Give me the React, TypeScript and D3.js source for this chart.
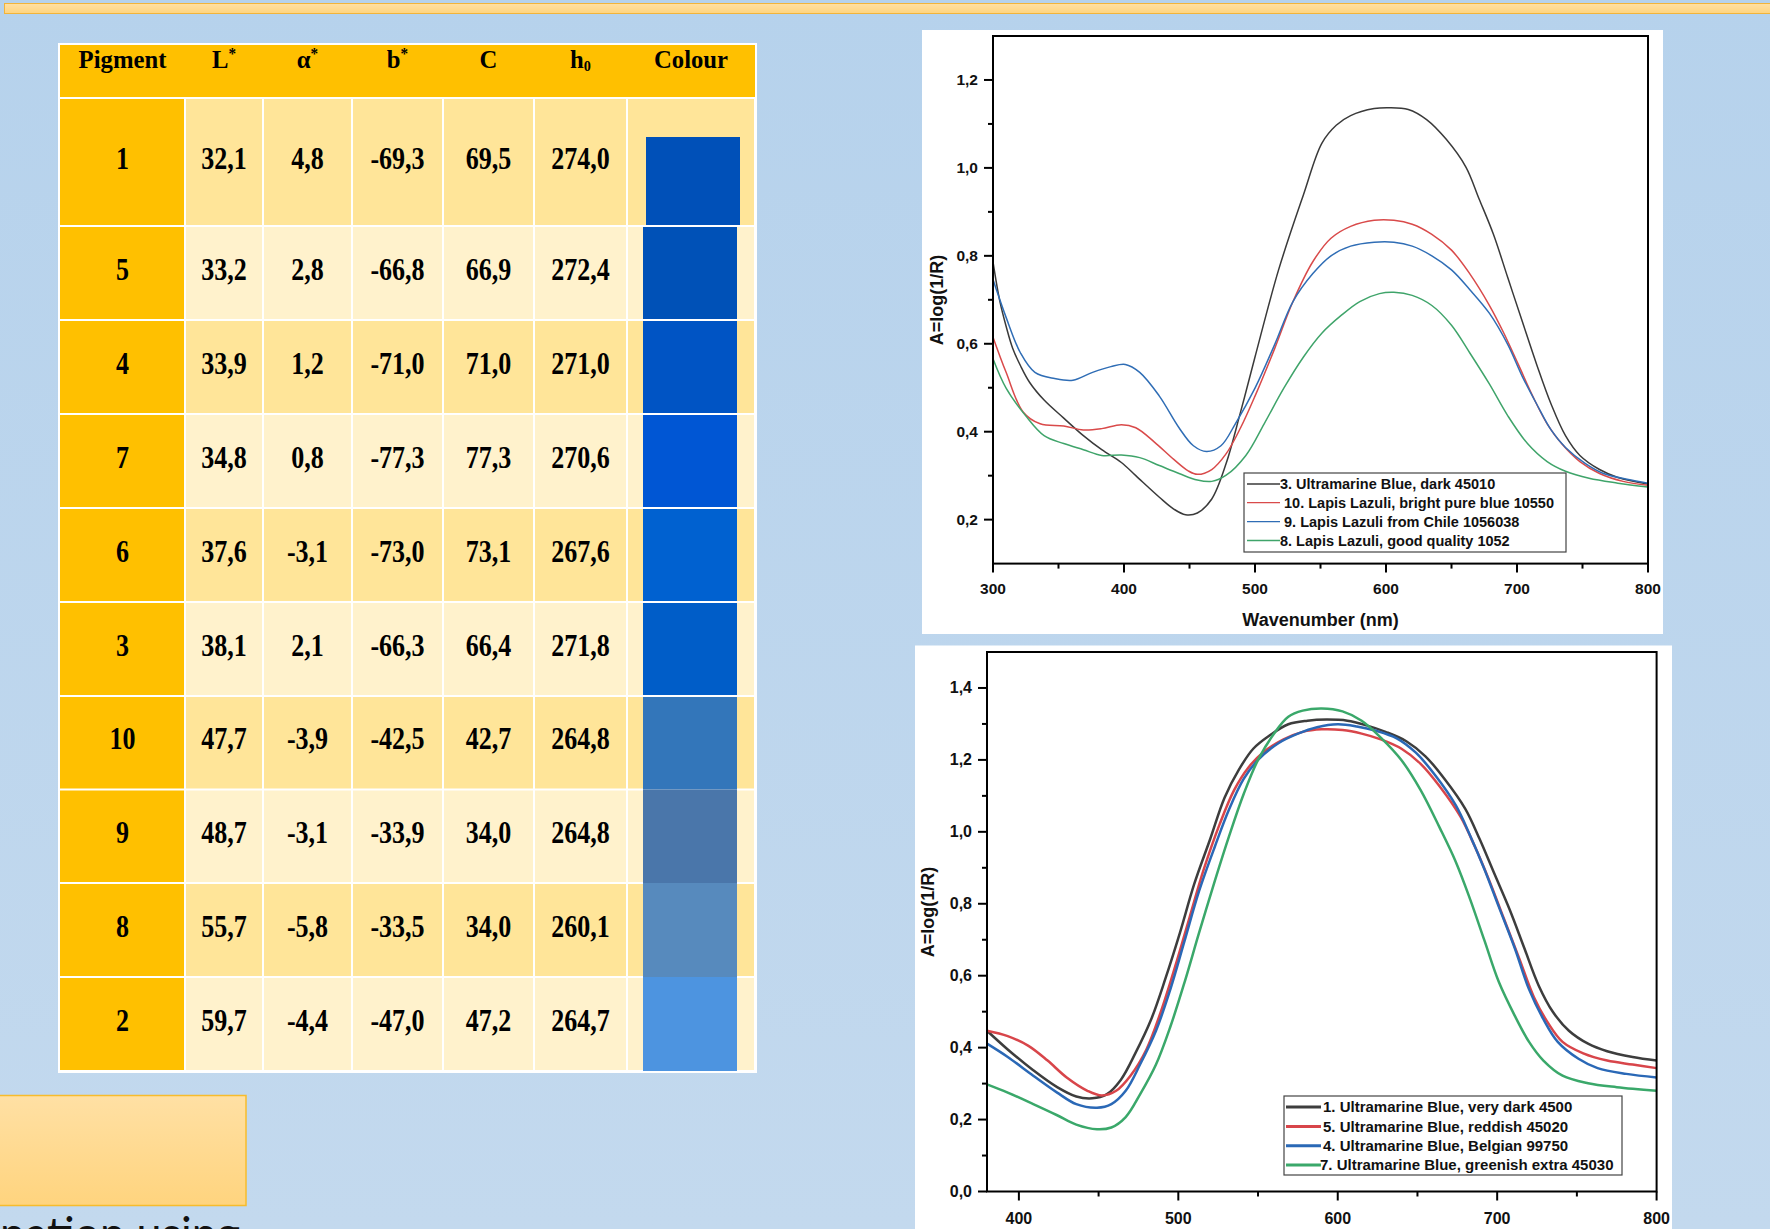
import React from 'react';
import * as d3 from 'd3';

// ---------------- Table data ----------------
const pigments = ['1', '5', '4', '7', '6', '3', '10', '9', '8', '2'];
const lStar = [32.1, 33.2, 33.9, 34.8, 37.6, 38.1, 47.7, 48.7, 55.7, 59.7];
const aStar = [4.8, 2.8, 1.2, 0.8, -3.1, 2.1, -3.9, -3.1, -5.8, -4.4];
const bStar = [-69.3, -66.8, -71.0, -77.3, -73.0, -66.3, -42.5, -33.9, -33.5, -47.0];
const chroma = [69.5, 66.9, 71.0, 77.3, 73.1, 66.4, 42.7, 34.0, 34.0, 47.2];
const hue = [274.0, 272.4, 271.0, 270.6, 267.6, 271.8, 264.8, 264.8, 260.1, 264.7];
const swatchColours = ['#0050B8', '#0051B7', '#0054C4', '#0056D4', '#0061D0', '#005DC8', '#3376BA', '#4A76AA', '#578ABD', '#4D94E0'];

// ---------------- Top chart data (wavelength nm, absorbance) ----------------
const topSeriesNames = [
  '3. Ultramarine Blue, dark 45010',
  ' 10. Lapis Lazuli, bright pure blue 10550',
  ' 9. Lapis Lazuli from Chile 1056038',
  '8. Lapis Lazuli, good quality 1052',
];
const topUltramarineDark: [number, number][] = [
  [300, 0.786], [305, 0.70], [310, 0.64], [315, 0.59], [321, 0.55], [328, 0.512], [339, 0.472], [354, 0.431],
  [369, 0.391], [383, 0.359], [398, 0.33], [409, 0.30], [427, 0.251], [438, 0.224], [447, 0.211], [456, 0.215],
  [467, 0.247], [478, 0.328], [489, 0.445], [500, 0.57], [518, 0.768], [537, 0.939], [551, 1.056], [562, 1.097],
  [573, 1.119], [591, 1.135], [602, 1.137], [617, 1.133], [631, 1.11], [646, 1.065], [661, 1.002], [671, 0.93],
  [682, 0.849], [693, 0.75], [704, 0.651], [715, 0.553], [726, 0.463], [737, 0.391], [748, 0.346], [763, 0.314],
  [777, 0.296], [800, 0.281],
];
const topLapisBright: [number, number][] = [
  [300, 0.615], [310, 0.535], [323, 0.445], [336, 0.418], [354, 0.413], [369, 0.404], [383, 0.407], [398, 0.416],
  [409, 0.409], [423, 0.377], [438, 0.337], [449, 0.311], [456, 0.303], [467, 0.314], [478, 0.35], [489, 0.409],
  [500, 0.481], [515, 0.589], [529, 0.696], [544, 0.786], [558, 0.84], [573, 0.867], [591, 0.881], [606, 0.881],
  [620, 0.872], [635, 0.849], [650, 0.813], [664, 0.759], [679, 0.687], [690, 0.624], [701, 0.553], [712, 0.481],
  [723, 0.418], [734, 0.373], [748, 0.332], [763, 0.305], [781, 0.287], [800, 0.278],
];
const topLapisChile: [number, number][] = [
  [300, 0.746], [310, 0.66], [321, 0.579], [332, 0.535], [347, 0.521], [361, 0.517], [376, 0.535], [390, 0.548],
  [401, 0.553], [412, 0.535], [427, 0.481], [442, 0.409], [453, 0.368], [463, 0.355], [474, 0.368], [485, 0.418],
  [500, 0.499], [515, 0.598], [529, 0.696], [544, 0.759], [558, 0.80], [573, 0.822], [591, 0.831], [606, 0.831],
  [620, 0.822], [635, 0.80], [650, 0.768], [664, 0.723], [679, 0.669], [693, 0.598], [704, 0.526], [715, 0.463],
  [726, 0.404], [737, 0.364], [752, 0.328], [766, 0.305], [784, 0.292], [800, 0.283],
];
const topLapisGood: [number, number][] = [
  [300, 0.566], [310, 0.499], [325, 0.436], [339, 0.391], [354, 0.373], [369, 0.359], [383, 0.346], [398, 0.347],
  [412, 0.341], [427, 0.323], [442, 0.305], [456, 0.29], [467, 0.287], [478, 0.301], [493, 0.346], [507, 0.418],
  [522, 0.499], [537, 0.57], [551, 0.624], [566, 0.665], [580, 0.696], [595, 0.714], [606, 0.717], [620, 0.71],
  [635, 0.687], [650, 0.642], [664, 0.579], [679, 0.508], [693, 0.436], [708, 0.373], [723, 0.332], [737, 0.31],
  [755, 0.294], [777, 0.283], [800, 0.274],
];
const topColours = ['#3a3a3a', '#d94a4a', '#2f6db5', '#3fa46a'];
const topYTicks = [0.2, 0.4, 0.6, 0.8, 1.0, 1.2];
const topYMinor = [0.3, 0.5, 0.7, 0.9, 1.1];
const topXTicks = [300, 400, 500, 600, 700, 800];
const topXMinor = [350, 450, 550, 650, 750];

// ---------------- Bottom chart data ----------------
const botSeriesNames = [
  '1. Ultramarine Blue, very dark 4500',
  '5. Ultramarine Blue, reddish 45020',
  '4. Ultramarine Blue, Belgian 99750',
  '7. Ultramarine Blue, greenish extra 45030',
];
const botVeryDark: [number, number][] = [
  [380, 0.447], [393, 0.395], [409, 0.337], [424, 0.29], [436, 0.264], [446, 0.259], [455, 0.27], [464, 0.311],
  [473, 0.384], [483, 0.479], [492, 0.593], [501, 0.719], [510, 0.855], [520, 0.98], [529, 1.095], [538, 1.173],
  [547, 1.231], [557, 1.267], [569, 1.299], [581, 1.309], [593, 1.312], [606, 1.309], [618, 1.296], [630, 1.278],
  [643, 1.252], [655, 1.21], [667, 1.147], [680, 1.064], [689, 0.98], [698, 0.886], [708, 0.782], [717, 0.677],
  [726, 0.573], [735, 0.499], [745, 0.447], [757, 0.411], [769, 0.39], [785, 0.374], [800, 0.364],
];
const botReddish: [number, number][] = [
  [380, 0.447], [393, 0.432], [406, 0.405], [418, 0.364], [430, 0.317], [443, 0.28], [452, 0.267], [461, 0.28],
  [470, 0.322], [480, 0.395], [489, 0.499], [498, 0.625], [507, 0.761], [516, 0.896], [526, 1.022], [535, 1.116],
  [544, 1.179], [553, 1.22], [566, 1.257], [578, 1.278], [590, 1.285], [603, 1.283], [615, 1.273], [627, 1.257],
  [640, 1.231], [652, 1.189], [664, 1.126], [677, 1.042], [686, 0.959], [695, 0.865], [704, 0.761], [714, 0.646],
  [723, 0.541], [732, 0.468], [741, 0.416], [754, 0.384], [769, 0.364], [785, 0.353], [800, 0.343],
];
const botBelgian: [number, number][] = [
  [380, 0.411], [393, 0.374], [409, 0.322], [424, 0.275], [436, 0.243], [449, 0.233], [458, 0.243], [467, 0.28],
  [476, 0.353], [486, 0.447], [495, 0.562], [504, 0.698], [513, 0.835], [523, 0.96], [532, 1.064], [541, 1.147],
  [550, 1.2], [563, 1.247], [575, 1.273], [587, 1.291], [600, 1.299], [612, 1.293], [624, 1.281], [637, 1.26],
  [649, 1.22], [661, 1.158], [674, 1.074], [683, 0.99], [692, 0.896], [701, 0.792], [711, 0.677], [720, 0.562],
  [729, 0.479], [738, 0.416], [751, 0.369], [763, 0.343], [781, 0.327], [800, 0.317],
];
const botGreenish: [number, number][] = [
  [380, 0.298], [393, 0.275], [409, 0.243], [424, 0.212], [436, 0.186], [449, 0.173], [458, 0.178], [467, 0.207],
  [476, 0.27], [486, 0.353], [495, 0.458], [504, 0.583], [513, 0.719], [523, 0.865], [532, 0.99], [541, 1.105],
  [550, 1.2], [560, 1.273], [569, 1.32], [578, 1.337], [590, 1.343], [603, 1.335], [615, 1.309], [627, 1.262],
  [640, 1.199], [652, 1.116], [664, 1.011], [674, 0.917], [683, 0.813], [692, 0.698], [701, 0.583], [711, 0.489],
  [720, 0.416], [729, 0.364], [741, 0.322], [757, 0.301], [775, 0.29], [800, 0.28],
];
const botColours = ['#3d3d3d', '#d8454a', '#2a68b6', '#3aa86a'];
const botYTicks = [0.0, 0.2, 0.4, 0.6, 0.8, 1.0, 1.2, 1.4];
const botYMinor = [0.1, 0.3, 0.5, 0.7, 0.9, 1.1, 1.3];
const botXTicks = [400, 500, 600, 700, 800];
const botXMinor = [450, 550, 650, 750];

const axisTitleX = 'Wavenumber (nm)';
const axisTitleY = 'A=log(1/R)';

const locale = d3.formatLocale({ decimal: ',', thousands: ' ', grouping: [3], currency: ['', ''], minus: '-' });
const fmt1 = locale.format('.1f');
const fmt0 = locale.format('d');

const SANS = '"Liberation Sans", Arial, sans-serif';
const SERIF = '"Liberation Serif", "Times New Roman", serif';

type ChartProps = {
  x: d3.ScaleLinear<number, number>;
  y: d3.ScaleLinear<number, number>;
  series: [number, number][][];
  colours: string[];
  names: string[];
  xTicks: number[];
  xMinor: number[];
  yTicks: number[];
  yMinor: number[];
  lineWidth: number;
  legend: { x0: number; y0: number; x1: number; y1: number; lineX0: number; lineX1: number; textX: number[]; rowY: number[]; font: number; sampleWidth: number };
  xLabelY: number;
  tickFont: number;
  xTitleY: number;
  yTitleX: number;
  yTitleY: number;
};

function Chart(p: ChartProps) {
  const [x0, x1] = p.x.range();
  const [yb, yt] = p.y.range();
  const line = d3.line<[number, number]>().x(d => p.x(d[0])).y(d => p.y(d[1])).curve(d3.curveCatmullRom.alpha(0.5));
  return (
    <g>
      {p.series.map((s, i) => (
        <path key={i} d={line(s) || ''} fill="none" stroke={p.colours[i]} strokeWidth={p.lineWidth} strokeLinejoin="round" />
      ))}
      {/* frame */}
      <rect x={x0} y={yt} width={x1 - x0} height={yb - yt} fill="none" stroke="#000" strokeWidth={2} />
      {/* y ticks */}
      {p.yTicks.map(t => (
        <g key={'yt' + t}>
          <line x1={x0 - 9} x2={x0} y1={p.y(t)} y2={p.y(t)} stroke="#000" strokeWidth={2} />
          <text x={x0 - 15} y={p.y(t) + 5.5} textAnchor="end" fontFamily={SANS} fontWeight="bold" fontSize={p.tickFont} fill="#111">{fmt1(t)}</text>
        </g>
      ))}
      {p.yMinor.map(t => (
        <line key={'ym' + t} x1={x0 - 5} x2={x0} y1={p.y(t)} y2={p.y(t)} stroke="#000" strokeWidth={2} />
      ))}
      {p.xTicks.map(t => (
        <g key={'xt' + t}>
          <line x1={p.x(t)} x2={p.x(t)} y1={yb} y2={yb + 9} stroke="#000" strokeWidth={2} />
          <text x={p.x(t)} y={p.xLabelY} textAnchor="middle" fontFamily={SANS} fontWeight="bold" fontSize={p.tickFont} fill="#111">{fmt0(t)}</text>
        </g>
      ))}
      {p.xMinor.map(t => (
        <line key={'xm' + t} x1={p.x(t)} x2={p.x(t)} y1={yb} y2={yb + 5} stroke="#000" strokeWidth={2} />
      ))}
      <text x={(x0 + x1) / 2} y={p.xTitleY} textAnchor="middle" fontFamily={SANS} fontWeight="bold" fontSize={18} fill="#111">{axisTitleX}</text>
      <text transform={`translate(${p.yTitleX},${p.yTitleY}) rotate(-90)`} textAnchor="middle" fontFamily={SANS} fontWeight="bold" fontSize={18} fill="#111" dy={6}>{axisTitleY}</text>
      {/* legend */}
      <rect x={p.legend.x0} y={p.legend.y0} width={p.legend.x1 - p.legend.x0} height={p.legend.y1 - p.legend.y0} fill="#fff" stroke="#444" strokeWidth={1.2} />
      {p.names.map((n, i) => (
        <g key={'lg' + i}>
          <line x1={p.legend.lineX0} x2={p.legend.lineX1} y1={p.legend.rowY[i]} y2={p.legend.rowY[i]} stroke={p.colours[i]} strokeWidth={p.legend.sampleWidth} />
          <text x={p.legend.textX[i]} y={p.legend.rowY[i] + 5} fontFamily={SANS} fontWeight="bold" fontSize={p.legend.font} fill="#111" xmlSpace="preserve">{n}</text>
        </g>
      ))}
    </g>
  );
}

function Table() {
  const colEdges = [60, 185, 263, 352, 443, 534, 627, 755];
  const headerTop = 45;
  const headerBottom = 98;
  const rowEdges = [98, 226, 320, 414, 508, 602, 696, 789.5, 883, 977, 1071];
  const cols = [lStar, aStar, bStar, chroma, hue];
  const cx = (i: number) => (colEdges[i] + colEdges[i + 1]) / 2;
  const hdrFont = 26;
  const dataFont = 31;
  const squeeze = 0.84;
  return (
    <g>
      <rect x={58} y={43} width={699} height={1030} fill="#fff" />
      {/* header */}
      <rect x={60} y={headerTop} width={695} height={headerBottom - headerTop - 1} fill="#FFC000" />
      <g fontFamily={SERIF} fontWeight="bold" fontSize={hdrFont} fill="#000">
        <text transform={`translate(${cx(0)},68) scale(0.95,1)`} textAnchor="middle">Pigment</text>
        <text transform={`translate(${cx(1)},68) scale(0.95,1)`} textAnchor="middle">L<tspan dy={-9} fontSize={16}>*</tspan></text>
        <text transform={`translate(${cx(2)},68) scale(0.95,1)`} textAnchor="middle">α<tspan dy={-9} fontSize={16}>*</tspan></text>
        <text transform={`translate(${cx(3)},68) scale(0.95,1)`} textAnchor="middle">b<tspan dy={-9} fontSize={16}>*</tspan></text>
        <text transform={`translate(${cx(4)},68) scale(0.95,1)`} textAnchor="middle">C</text>
        <text transform={`translate(${cx(5)},68) scale(0.95,1)`} textAnchor="middle">h<tspan dy={3} fontSize={15}>0</tspan></text>
        <text transform={`translate(${cx(6)},68) scale(0.95,1)`} textAnchor="middle">Colour</text>
      </g>
      {pigments.map((pg, r) => {
        const top = rowEdges[r];
        const bot = rowEdges[r + 1];
        const fill = r % 2 === 0 ? '#FFE599' : '#FFF2CC';
        const cy = (top + bot) / 2 + 6.5;
        const swTop = r === 0 ? 137 : top + (r <= 6 ? 1 : 0);
        const swBot = bot - (r <= 5 ? 1 : 0);
        const swX = r === 0 ? 646 : 643;
        return (
          <g key={pg}>
            <rect x={colEdges[0]} y={top + 1} width={colEdges[1] - colEdges[0] - 1} height={bot - top - 2} fill="#FFC000" />
            {colEdges.slice(1, -1).map((ce, c) => (
              <rect key={c} x={ce + 1} y={top + 1} width={colEdges[c + 2] - ce - 2} height={bot - top - 2} fill={fill} />
            ))}
            <rect x={swX} y={swTop} width={94} height={swBot - swTop} fill={swatchColours[r]} />
            <g fontFamily={SERIF} fontWeight="bold" fontSize={dataFont} fill="#000">
              <text transform={`translate(${cx(0)},${cy}) scale(${squeeze},1)`} textAnchor="middle">{pg}</text>
              {cols.map((arr, c) => (
                <text key={c} transform={`translate(${cx(c + 1)},${cy}) scale(${squeeze},1)`} textAnchor="middle">{fmt1(arr[r])}</text>
              ))}
            </g>
          </g>
        );
      })}
    </g>
  );
}

export default function App() {
  const xTop = d3.scaleLinear().domain([300, 800]).range([993, 1648]);
  const yTop = d3.scaleLinear().domain([0.1, 1.3]).range([563.6, 36]);
  const xBot = d3.scaleLinear().domain([380, 800]).range([987, 1656.6]);
  const yBot = d3.scaleLinear().domain([0, 1.5]).range([1191.5, 652]);

  return (
    <svg width={1770} height={1229} style={{ position: 'absolute', left: 0, top: 0, display: 'block' }} xmlns="http://www.w3.org/2000/svg">
      <defs>
        <linearGradient id="bg" x1="0" y1="0" x2="0" y2="1">
          <stop offset="0" stopColor="#B6D2EC" />
          <stop offset="1" stopColor="#C3D9EE" />
        </linearGradient>
        <linearGradient id="orange" x1="0" y1="0" x2="0" y2="1">
          <stop offset="0" stopColor="#FFE0A4" />
          <stop offset="1" stopColor="#FFD47E" />
        </linearGradient>
      </defs>
      <rect x={0} y={0} width={1770} height={1229} fill="url(#bg)" />
      <rect x={4.5} y={3.5} width={1770} height={10} fill="url(#orange)" stroke="#F2B43A" strokeWidth={1} />

      <Table />

      <rect x={-2} y={1095.5} width={248} height={110} fill="url(#orange)" stroke="#F7BC2C" strokeWidth={1.5} />
      <text x={0} y={1250} fontFamily='"Lato", "Open Sans", sans-serif' fontSize={46} fill="#111" textLength={240} lengthAdjust="spacingAndGlyphs">nation using</text>

      {/* top chart panel */}
      <rect x={922} y={30} width={741} height={604} fill="#fff" />
      <Chart
        x={xTop}
        y={yTop}
        series={[topUltramarineDark, topLapisBright, topLapisChile, topLapisGood]}
        colours={topColours}
        names={topSeriesNames}
        xTicks={topXTicks}
        xMinor={topXMinor}
        yTicks={topYTicks}
        yMinor={topYMinor}
        lineWidth={1.5}
        legend={{ x0: 1244, y0: 473, x1: 1566, y1: 552, lineX0: 1247, lineX1: 1280, textX: [1280, 1280, 1280, 1280], rowY: [484, 502.7, 521.7, 540.5], font: 14.5, sampleWidth: 1.3 }}
        xLabelY={594}
        tickFont={15.5}
        xTitleY={626}
        yTitleX={937}
        yTitleY={300}
      />

      {/* bottom chart panel */}
      <rect x={915} y={645.5} width={757} height={600} fill="#fff" />
      <Chart
        x={xBot}
        y={yBot}
        series={[botVeryDark, botReddish, botBelgian, botGreenish]}
        colours={botColours}
        names={botSeriesNames}
        xTicks={botXTicks}
        xMinor={botXMinor}
        yTicks={botYTicks}
        yMinor={botYMinor}
        lineWidth={2.5}
        legend={{ x0: 1284, y0: 1096, x1: 1622, y1: 1175, lineX0: 1286, lineX1: 1321, textX: [1323, 1323, 1323, 1320], rowY: [1107, 1126.5, 1145.7, 1165], font: 15, sampleWidth: 3 }}
        xLabelY={1224}
        tickFont={16}
        xTitleY={1243}
        yTitleX={928}
        yTitleY={912}
      />
    </svg>
  );
}
